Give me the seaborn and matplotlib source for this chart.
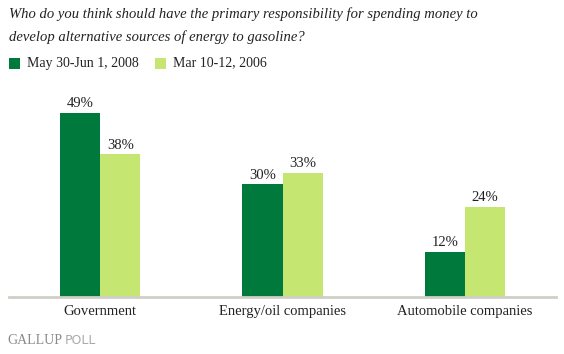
import matplotlib
matplotlib.use("Agg")
import matplotlib.pyplot as plt
import seaborn as sns
import pandas as pd
from matplotlib.patches import Rectangle

categories = ["Government", "Energy/oil companies", "Automobile companies"]
series_names = ["May 30-Jun 1, 2008", "Mar 10-12, 2006"]
values_2008 = [49, 30, 12]
values_2006 = [38, 33, 24]
colors = ["#007A3C", "#C6E672"]

df = pd.DataFrame({
    "category": categories * 2,
    "series": [series_names[0]] * 3 + [series_names[1]] * 3,
    "value": values_2008 + values_2006,
})

sns.set_theme(style="white")
plt.rcParams['font.family'] = ['Liberation Serif', 'DejaVu Serif']

fig = plt.figure(figsize=(5.64, 3.54), dpi=100)
W, H = 564, 354
ax_left, ax_right = 9, 556
ax_bottom, ax_top = 297, 90
ax = fig.add_axes([ax_left / W, 1 - ax_bottom / H, (ax_right - ax_left) / W, (ax_bottom - ax_top) / H])

sns.barplot(data=df, x="category", y="value", hue="series", order=categories,
            hue_order=series_names, palette=colors, width=0.44, saturation=1,
            legend=False, ax=ax, linewidth=0)

ax.set_xlim(-0.5, 2.5)
ax.set_ylim(0, (297 - 90) / 3.755)
for container in ax.containers:
    ax.bar_label(container, labels=[f"{v:.0f}%" for v in container.datavalues],
                 padding=2, fontsize=10.5, color="#222222")

for s in ["top", "right", "left"]:
    ax.spines[s].set_visible(False)
ax.spines["bottom"].set_color("#CFCFC8")
ax.spines["bottom"].set_linewidth(2)
ax.set_yticks([])
ax.set_xlabel("")
ax.set_ylabel("")
ax.tick_params(axis="x", length=0, pad=6, labelsize=10.5, labelcolor="#222222")

# Title
fig.text(9 / W, 1 - 14 / H, "Who do you think should have the primary responsibility for spending money to",
         fontsize=10.5, style="italic", color="#222222", va="center", ha="left")
fig.text(9 / W, 1 - 37 / H, "develop alternative sources of energy to gasoline?",
         fontsize=10.5, style="italic", color="#222222", va="center", ha="left")

# Legend
for x0, c, label in [(9, colors[0], series_names[0]), (155, colors[1], series_names[1])]:
    fig.patches.append(Rectangle((x0 / W, 1 - 69 / H), 11 / W, 11 / H,
                                 transform=fig.transFigure, facecolor=c, edgecolor="none"))
    fig.text((x0 + 18) / W, 1 - 63 / H, label, fontsize=10, color="#222222",
             va="center", ha="left")

# Footer
fig.text(7 / W, 1 - 341 / H, "GALLUP", fontsize=10, color="#8A8A8A", va="center", ha="left",
         family="Liberation Serif")
fig.text(65 / W, 1 - 341 / H, "POLL", fontsize=9, color="#AAAAAA", va="center", ha="left",
         family="DejaVu Sans")

fig.savefig("out.png", dpi=100)
